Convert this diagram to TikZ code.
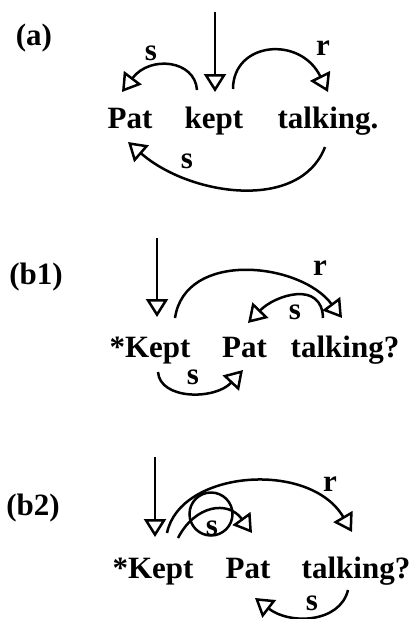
\documentclass[tikz,border=0pt]{standalone}
\usepackage{fontspec}
\setmainfont{Liberation Serif}
\usetikzlibrary{arrows.meta}
\begin{document}
\begin{tikzpicture}[x=1pt,y=-1pt,
  word/.style={inner sep=0pt, anchor=base, font=\fontsize{31}{32}\selectfont\bfseries},
  lab/.style={inner sep=0pt, font=\fontsize{31}{32}\selectfont\bfseries},
  dep/.style={line width=2.5pt, -{Triangle[open, length=18pt, width=22pt]}},
  loopline/.style={line width=2.5pt},
]
\useasboundingbox (0,0) rectangle (411,619);
% ---------- (a)
\node[word] (a-lab) at (34,45) {(a)};
\node[word] (a-pat) at (130,128) {Pat};
\node[word] (a-kept) at (214,128) {kept};
\node[word] (a-talk) at (328,128) {talking.};
\coordinate (a-top) at (215,12);
\coordinate (a-kin) at (215,92);
\coordinate (a-ks) at (197,90);
\coordinate (a-pe) at (122,92);
\coordinate (a-kr) at (233,89);
\coordinate (a-te) at (328,92);
\coordinate (a-ts) at (325,147);
\coordinate (a-pb) at (128,142);
\draw[dep] (a-top) -- (a-kin);
\draw[dep] (a-ks) .. controls (195,60) and (150,55) .. (a-pe);
\draw[dep] (a-kr) .. controls (233,42) and (300,35) .. (a-te);
\draw[dep] (a-ts) .. controls (300,212) and (190,196) .. (a-pb);
\node[lab] (a-s1) at (151,53) {s};
\node[lab] (a-r) at (323,48) {r};
\node[lab] (a-s2) at (187,161) {s};
% ---------- (b1)
\node[word] (b1-lab) at (36,284) {(b1)};
\node[word] (b1-kept) at (150,357) {*Kept};
\node[word] (b1-pat) at (244.5,357) {Pat};
\node[word] (b1-talk) at (345,357) {talking?};
\coordinate (b1-top) at (157,238);
\coordinate (b1-kin) at (157,317);
\coordinate (b1-kr) at (175,318);
\coordinate (b1-te) at (342,318);
\coordinate (b1-ts) at (323,318);
\coordinate (b1-pe) at (248,323);
\coordinate (b1-kb) at (158,372);
\coordinate (b1-pb) at (243,370);
\draw[dep] (b1-top) -- (b1-kin);
\draw[dep] (b1-kr) .. controls (185,250) and (300,262) .. (b1-te);
\draw[dep] (b1-ts) .. controls (322,280) and (275,295) .. (b1-pe);
\draw[dep] (b1-kb) .. controls (160,400) and (215,400) .. (b1-pb);
\node[lab] (b1-r) at (320,268) {r};
\node[lab] (b1-s1) at (295,312) {s};
\node[lab] (b1-s2) at (193,377) {s};
% ---------- (b2)
\node[word] (b2-lab) at (33,515) {(b2)};
\node[word] (b2-kept) at (153,578) {*Kept};
\node[word] (b2-pat) at (248,578) {Pat};
\node[word] (b2-talk) at (356,578) {talking?};
\coordinate (b2-top) at (155,457);
\coordinate (b2-kin) at (155,537);
\coordinate (b2-kr) at (167,533);
\coordinate (b2-te) at (352,532);
\coordinate (b2-ks) at (178,538);
\coordinate (b2-pe) at (252,533);
\coordinate (b2-loop) at (211,514);
\coordinate (b2-ts) at (348,590);
\coordinate (b2-pb) at (255,598);
\draw[dep] (b2-top) -- (b2-kin);
\draw[dep] (b2-kr) .. controls (180,470) and (310,460) .. (b2-te);
\draw[dep] (b2-ks) .. controls (195,505) and (228,500) .. (b2-pe);
\draw[loopline] (b2-loop) circle (21.5);
\draw[dep] (b2-ts) .. controls (340,623) and (290,625) .. (b2-pb);
\node[lab] (b2-s2) at (312,603) {s};
\node[lab] (b2-r) at (330,484) {r};
\node[lab] (b2-s1) at (212,528) {s};
\end{tikzpicture}
\end{document}
